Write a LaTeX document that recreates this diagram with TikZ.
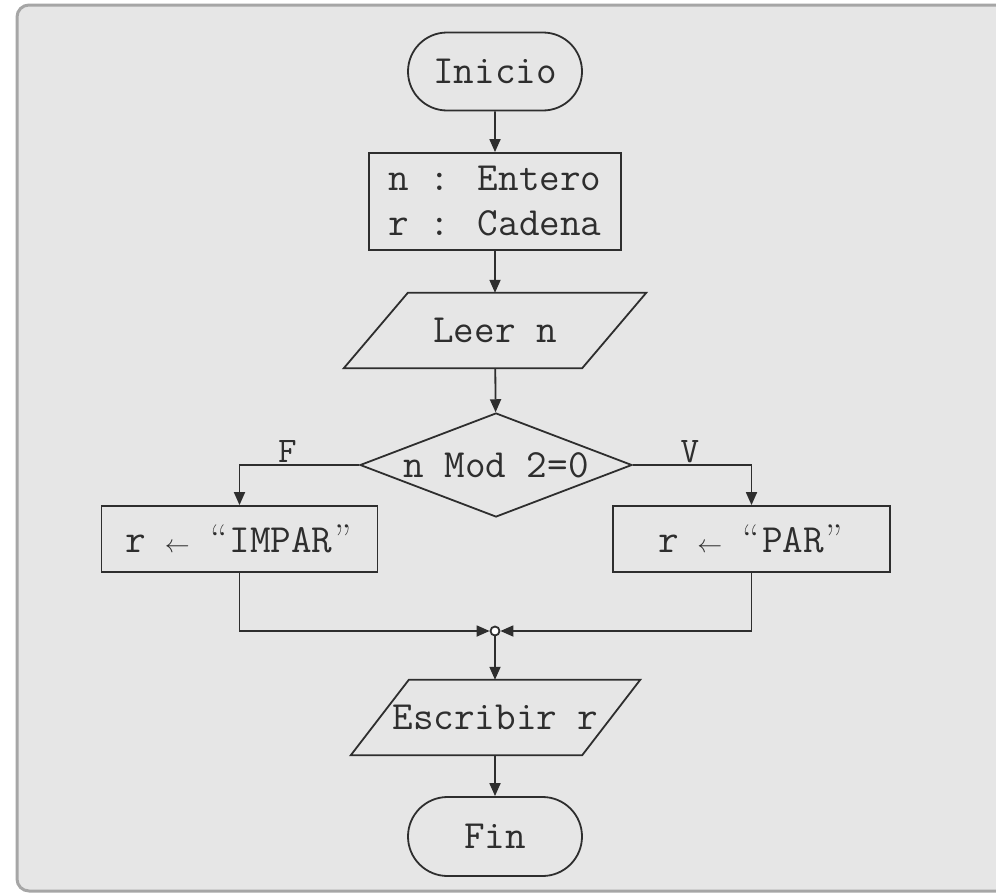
\documentclass[tikz,border=0pt]{standalone}
\usepackage{fontspec}
\usetikzlibrary{arrows.meta,calc,shapes.misc,shapes.geometric}
\definecolor{ink}{HTML}{2E2E2E}
\definecolor{panel}{HTML}{E6E6E6}
\definecolor{rim}{HTML}{A6A6A6}
% small assignment arrow, one character cell wide
\newcommand{\asig}{\makebox[21pt]{\fontsize{24}{24}\selectfont$\leftarrow$}}
% curly quotes in a one-cell box
\newcommand{\qopen}{\makebox[21pt]{\rmfamily “}}
\newcommand{\qclose}{\makebox[21pt]{\rmfamily ”}}
\begin{document}
\begin{tikzpicture}[x=1pt,y=-1pt,
  every node/.style={font=\ttfamily\fontsize{40}{45}\selectfont, text=ink},
  line/.style={draw=ink, line width=1.8pt},
  flow/.style={line, -{Triangle[length=13pt,width=11pt]}},
  term/.style={line, rounded rectangle, minimum width=174pt, minimum height=78pt, inner sep=0pt},
  proc/.style={line, rectangle, inner sep=0pt},
  iobox/.style={rectangle, minimum width=238pt, minimum height=75pt, inner sep=0pt},
  decide/.style={line, diamond, aspect=2.6, minimum width=272pt, minimum height=104pt, inner sep=0pt},
  junct/.style={line, circle, fill=white, inner sep=0pt, minimum size=9pt},
  lbl/.style={font=\ttfamily\fontsize{36}{36}\selectfont, anchor=base, yshift=3pt}]

% page and panel
\useasboundingbox (0,0) rectangle (996,894);
\begin{scope}
  \clip (0,0) rectangle (996,894);
  \fill[white] (0,0) rectangle (996,894);
  \draw[rim, fill=panel, line width=3pt, rounded corners=12pt] (17,5) rectangle (1030,891);
\end{scope}

% nodes
\node[term] (inicio) at (495,71.5) {Inicio};
\node[proc, minimum width=252pt, minimum height=97pt, align=left] (decl) at (495,201.5)
  {n : Entero\\r : Cadena};
\node[iobox] (leer) at (495,330.5) {Leer n};
\draw[line] ($(leer.north west)+(32,0)$) -- ($(leer.north east)+(32,0)$)
  -- ($(leer.south east)+(-32,0)$) -- ($(leer.south west)+(-32,0)$) -- cycle;
\node[decide] (cond) at (496,465) {n Mod 2=0};
\node[proc, minimum width=276pt, minimum height=66pt] (impar) at (239.5,539) {r \asig{} \qopen{}IMPAR\qclose};
\node[proc, minimum width=277pt, minimum height=66pt] (par) at (751.5,539) {r \asig{} \qopen{}PAR\qclose};
\node[junct] (j) at (495,631) {};
\node[iobox, minimum width=231pt] (escribir) at (495.5,717.5) {Escribir r};
\draw[line] ($(escribir.north west)+(29,0)$) -- ($(escribir.north east)+(29,0)$)
  -- ($(escribir.south east)+(-29,0)$) -- ($(escribir.south west)+(-29,0)$) -- cycle;
\node[term, minimum height=79pt] (fin) at (495,836.5) {Fin};

% connectors
\draw[flow] (inicio) -- (decl);
\draw[flow] (decl) -- (leer);
\draw[flow] (leer) -- (cond);
\draw[flow] (cond.west) -| node[lbl, pos=0.3] {F} (impar.north);
\draw[flow] (cond.east) -| node[lbl, pos=0.24] {V} (par.north);
\draw[flow] (impar.south) |- (j);
\draw[flow] (par.south) |- (j);
\draw[flow] (j) -- (escribir.north -| j);
\draw[flow] (escribir.south -| fin) -- (fin);
\end{tikzpicture}
\end{document}
